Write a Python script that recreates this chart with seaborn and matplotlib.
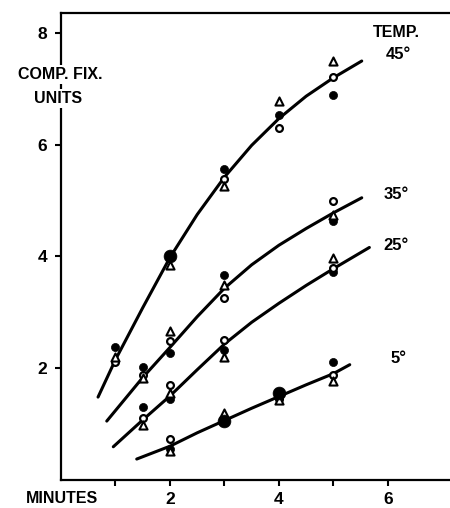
import pandas as pd
import matplotlib.pyplot as plt
import seaborn as sns

sns.set_style("ticks")
plt.rcParams['font.family'] = ['Liberation Sans', 'DejaVu Sans']
plt.rcParams['font.weight'] = 'bold'
plt.rcParams.update({'text.color': 'black', 'xtick.color': 'black', 'ytick.color': 'black',
                     'axes.edgecolor': 'black', 'axes.labelcolor': 'black'})

temps = ["45°", "35°", "25°", "5°"]

# hand-drawn curves
curve_45_min = [0.68, 1.0, 1.5, 2.0, 2.5, 3.0, 3.5, 4.0, 4.5, 5.0, 5.52]
curve_45_val = [1.48, 2.15, 3.08, 3.98, 4.75, 5.42, 5.99, 6.47, 6.87, 7.2, 7.5]
curve_35_min = [0.84, 1.5, 2.0, 2.5, 3.0, 3.5, 4.0, 4.5, 5.0, 5.52]
curve_35_val = [1.05, 1.83, 2.37, 2.92, 3.43, 3.85, 4.2, 4.5, 4.78, 5.05]
curve_25_min = [0.96, 1.5, 2.0, 2.5, 3.0, 3.5, 4.0, 4.5, 5.0, 5.66]
curve_25_val = [0.59, 1.07, 1.5, 1.97, 2.43, 2.82, 3.16, 3.48, 3.78, 4.16]
curve_5_min = [1.39, 2.0, 2.5, 3.0, 3.5, 4.0, 4.5, 5.0, 5.3]
curve_5_val = [0.37, 0.6, 0.84, 1.06, 1.28, 1.49, 1.7, 1.9, 2.06]

# measured points (filled circle, open circle, triangle)
pts_45_min = [1, 2, 3, 4, 5]
pts_45_filled = [2.37, None, 5.57, 6.53, 6.89]
pts_45_open = [2.1, None, 5.38, 6.3, 7.21]
pts_45_tri = [2.2, 3.85, 5.27, 6.79, 7.5]

pts_35_min = [1.5, 2, 3, 5]
pts_35_filled = [2.02, 2.27, 3.66, 4.64]
pts_35_open = [1.87, 2.48, 3.25, 5.0]
pts_35_tri = [1.82, 2.66, 3.48, 4.75]

pts_25_min = [1.5, 2, 3, 5]
pts_25_filled = [1.3, 1.45, 2.33, 3.72]
pts_25_open = [1.1, 1.7, 2.5, 3.8]
pts_25_tri = [0.98, 1.55, 2.19, 3.98]

pts_5_min = [2, 3, 4, 5]
pts_5_filled = [0.55, None, None, 2.1]
pts_5_open = [0.73, 1.05, 1.45, 1.88]
pts_5_tri = [0.52, 1.2, 1.42, 1.77]

# the few extra-large filled dots
big_min = [2, 3, 4]
big_val = [4.0, 1.05, 1.55]

curve_sets = [(curve_45_min, curve_45_val), (curve_35_min, curve_35_val),
              (curve_25_min, curve_25_val), (curve_5_min, curve_5_val)]
pt_sets = [(pts_45_min, pts_45_filled, pts_45_open, pts_45_tri),
           (pts_35_min, pts_35_filled, pts_35_open, pts_35_tri),
           (pts_25_min, pts_25_filled, pts_25_open, pts_25_tri),
           (pts_5_min, pts_5_filled, pts_5_open, pts_5_tri)]

curves = pd.concat([pd.DataFrame({"temp": t, "minutes": m, "value": v})
                    for t, (m, v) in zip(temps, curve_sets)], ignore_index=True)

rows = []
for t, (m, f, o, tr) in zip(temps, pt_sets):
    for sym, vals in (("filled", f), ("open", o), ("tri", tr)):
        for x, y in zip(m, vals):
            if y is not None:
                rows.append({"temp": t, "minutes": x, "value": y, "symbol": sym})
pts = pd.DataFrame(rows)
big = pd.DataFrame({"minutes": big_min, "value": big_val})

fig = plt.figure(figsize=(4.5, 5.08), dpi=100)
ax = fig.add_axes([61 / 450, 28.3 / 508, 389 / 450, 466.7 / 508])

sns.lineplot(data=curves, x="minutes", y="value", units="temp", estimator=None,
             sort=False, color="black", lw=2.2, ax=ax, zorder=2)

sns.scatterplot(data=pts[pts.symbol == "filled"], x="minutes", y="value", marker="o",
                s=34, color="black", edgecolor="black", linewidth=0.5, ax=ax, zorder=4)
sns.scatterplot(data=pts[pts.symbol == "open"], x="minutes", y="value", marker="o",
                s=24, facecolor="white", edgecolor="black", linewidth=1.6, ax=ax, zorder=4)
sns.scatterplot(data=pts[pts.symbol == "tri"], x="minutes", y="value", marker="^",
                s=34, facecolor="white", edgecolor="black", linewidth=1.5, ax=ax, zorder=4)
sns.scatterplot(data=big, x="minutes", y="value", marker="o", s=85, color="black",
                edgecolor="black", linewidth=0.5, ax=ax, zorder=5)

ax.set_xlim(0, 7.14)
ax.set_ylim(0, 8.36)
ax.set_xlabel("")
ax.set_ylabel("")

ax.set_xticks([1, 2, 3, 4, 5, 6])
ax.set_xticklabels(["", "2", "", "4", "", "6"])
ax.set_yticks([2, 4, 6, 8])
ax.set_yticklabels(["2", "4", "6", "8"])
ax.tick_params(axis="x", direction="out", length=4, width=1.5, pad=5, labelsize=12.5)
ax.tick_params(axis="y", direction="out", length=4, width=1.5, pad=6, labelsize=12.5)

for side in ("left", "bottom", "top"):
    ax.spines[side].set_linewidth(1.6)
ax.spines["right"].set_visible(False)

box = dict(facecolor="white", edgecolor="none", pad=1.5)
ax.text(-0.02, 7.26, "COMP. FIX.", ha="center", va="center", fontsize=11.5,
        fontweight="bold", bbox=box, clip_on=False, zorder=6)
ax.text(-0.05, 6.83, "UNITS", ha="center", va="center", fontsize=11.5,
        fontweight="bold", bbox=box, clip_on=False, zorder=6)

ax.text(6.15, 8.01, "TEMP.", ha="center", va="center", fontsize=11.5, fontweight="bold")
ax.text(6.2, 7.62, "45°", ha="center", va="center", fontsize=12, fontweight="bold")
ax.text(6.15, 5.1, "35°", ha="center", va="center", fontsize=12, fontweight="bold")
ax.text(6.15, 4.2, "25°", ha="center", va="center", fontsize=12, fontweight="bold")
ax.text(6.2, 2.18, "5°", ha="center", va="center", fontsize=12, fontweight="bold")

ax.text(0.02, -0.33, "MINUTES", ha="center", va="center", fontsize=11.5,
        fontweight="bold", clip_on=False)

fig.savefig("out.png", dpi=100)
